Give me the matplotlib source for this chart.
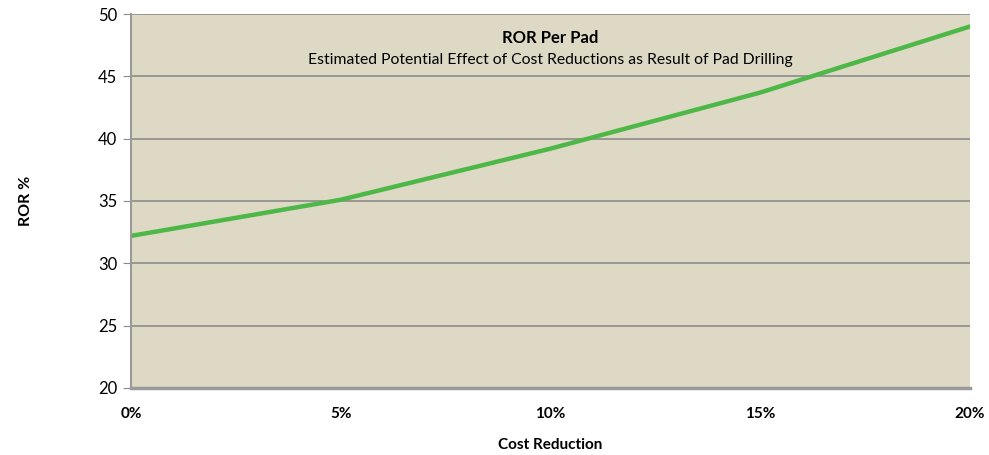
import matplotlib.pyplot as plt

plt.rcParams['font.family'] = ['Lato', 'DejaVu Sans']

# ROR per pad against drilling cost reduction
cost_reduction = [0, 5, 10, 15, 20]
ror_pct = [32.2, 35.1, 39.2, 43.7, 49.0]
x_labels = ['0%', '5%', '10%', '15%', '20%']
y_ticks = [20, 25, 30, 35, 40, 45, 50]

fig = plt.figure(figsize=(9.89, 4.55), dpi=100)
ax = fig.add_axes([0.1325, 0.1473, 0.8483, 0.8219])
ax.set_facecolor('#DDD9C4')

ax.plot(cost_reduction, ror_pct, color='#4DB848', linewidth=3.2, solid_capstyle='round')

ax.set_xlim(0, 20)
ax.set_ylim(20, 50)
ax.set_xticks(cost_reduction)
ax.set_xticklabels(x_labels, fontsize=11, fontweight='bold')
ax.set_yticks(y_ticks)
ax.tick_params(axis='y', labelsize=12, length=6, color='#8C8C8C', pad=4)
ax.tick_params(axis='x', length=0, pad=14)

ax.grid(axis='y', color='#8C8C8C', linewidth=1.2)
ax.set_axisbelow(True)
for side in ['top', 'right']:
    ax.spines[side].set_visible(False)
ax.spines['left'].set_color('#9A9A9A')
ax.spines['left'].set_linewidth(1.5)
ax.spines['bottom'].set_color('#9A9A9A')
ax.spines['bottom'].set_linewidth(2.5)

ax.set_xlabel('Cost Reduction', fontsize=11, fontweight='bold', labelpad=12)
ax.set_ylabel('ROR %', fontsize=11.5, fontweight='bold', labelpad=47)

ax.text(0.5, 0.935, 'ROR Per Pad', transform=ax.transAxes, ha='center', va='center',
        fontsize=12, fontweight='bold')
ax.text(0.5, 0.876, 'Estimated Potential Effect of Cost Reductions as Result of Pad Drilling',
        transform=ax.transAxes, ha='center', va='center', fontsize=11.3)

fig.savefig('out.png', dpi=100)
